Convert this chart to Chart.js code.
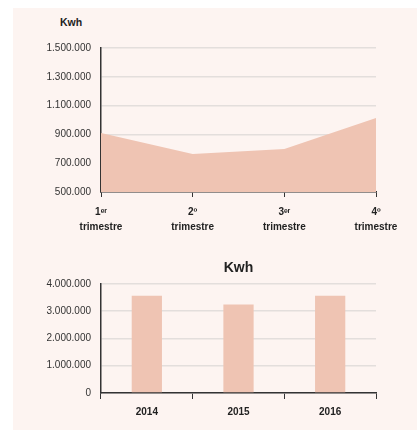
<!DOCTYPE html>
<html>
<head>
<meta charset="utf-8">
<script src="https://cdn.jsdelivr.net/npm/chart.js@4.4.1/dist/chart.umd.min.js"></script>
<style>
  body { margin: 0; background: #ffffff; }
  #panel { position: absolute; left: 13px; top: 8px; width: 404px; height: 422px; background: #fdf4f1; }
  #unit { position: absolute; left: 60px; top: 15px; font: bold 10.5px 'Liberation Sans', sans-serif; line-height: 14px; color: #222; }
  canvas { position: absolute; left: 0; }
  #c1 { top: 0; }
  #c2 { top: 240px; }
</style>
</head>
<body>
<div id="panel"></div>
<div id="unit">Kwh</div>
<canvas id="c1" width="417" height="240"></canvas>
<canvas id="c2" width="417" height="190"></canvas>
<script>
// quarterly consumption
const quarters = [['1ᵉʳ', 'trimestre'], ['2º', 'trimestre'], ['3ᵉʳ', 'trimestre'], ['4º', 'trimestre']];
const quarterKwh = [910000, 764000, 798000, 1014000];

// yearly consumption
const years = ['2014', '2015', '2016'];
const yearKwh = [3560000, 3240000, 3560000];

const fill = '#efc4b3';
const grid = '#e3dedc';
const axis = '#333333';

function dots(v) {
    return String(v).replace(/\B(?=(\d{3})+(?!\d))/g, '.');
}

Chart.defaults.font.family = "'Liberation Sans', sans-serif";
Chart.defaults.color = '#222222';

new Chart(document.getElementById('c1'), {
    type: 'line',
    data: {
        labels: quarters,
        datasets: [{
            data: quarterKwh,
            fill: 'start',
            backgroundColor: fill,
            borderWidth: 0,
            pointRadius: 0,
            tension: 0
        }]
    },
    options: {
        responsive: false,
        animation: false,
        layout: { padding: { left: 0, right: 41, top: 48, bottom: 0 } },
        plugins: {
            legend: { display: false },
            tooltip: { enabled: false }
        },
        scales: {
            x: {
                offset: false,
                afterFit: function(s) { s.height = 48; },
                grid: { drawOnChartArea: false, drawTicks: true, tickLength: 5, color: axis },
                border: { color: axis, width: 1.5 },
                ticks: { padding: 8, maxRotation: 0, font: { size: 10, weight: 'bold', lineHeight: 1.45 }, color: '#222' }
            },
            y: {
                min: 500000,
                max: 1500000,
                afterFit: function(s) { s.width = 101; },
                grid: { color: grid, drawTicks: false, lineWidth: 1.5 },
                border: { color: axis, width: 1.5 },
                ticks: {
                    stepSize: 200000,
                    padding: 10,
                    font: { size: 10 },
                    color: '#333',
                    callback: function(v) { return dots(v); }
                }
            }
        }
    }
});

new Chart(document.getElementById('c2'), {
    type: 'bar',
    data: {
        labels: years,
        datasets: [{
            data: yearKwh,
            backgroundColor: fill,
            barPercentage: 0.33,
            categoryPercentage: 1
        }]
    },
    options: {
        responsive: false,
        animation: false,
        layout: { padding: { left: 0, right: 41, top: 0, bottom: 0 } },
        plugins: {
            legend: { display: false },
            tooltip: { enabled: false },
            title: {
                display: true,
                fullSize: false,
                text: 'Kwh',
                font: { size: 14, weight: 'bold' },
                padding: { top: 19.4, bottom: 7.6 }
            }
        },
        scales: {
            x: {
                afterFit: function(s) { s.height = 37; },
                grid: { offset: true, drawOnChartArea: false, drawTicks: true, tickLength: 6, color: axis },
                border: { color: axis, width: 1.5 },
                ticks: { padding: 7, font: { size: 10, weight: 'bold' }, color: '#222' }
            },
            y: {
                min: 0,
                max: 4000000,
                afterFit: function(s) { s.width = 101; },
                grid: { color: grid, drawTicks: false, lineWidth: 1.5 },
                border: { color: axis, width: 1.5 },
                ticks: {
                    stepSize: 1000000,
                    padding: 10,
                    font: { size: 10 },
                    color: '#333',
                    callback: function(v) { return dots(v); }
                }
            }
        }
    }
});
</script>
</body>
</html>
